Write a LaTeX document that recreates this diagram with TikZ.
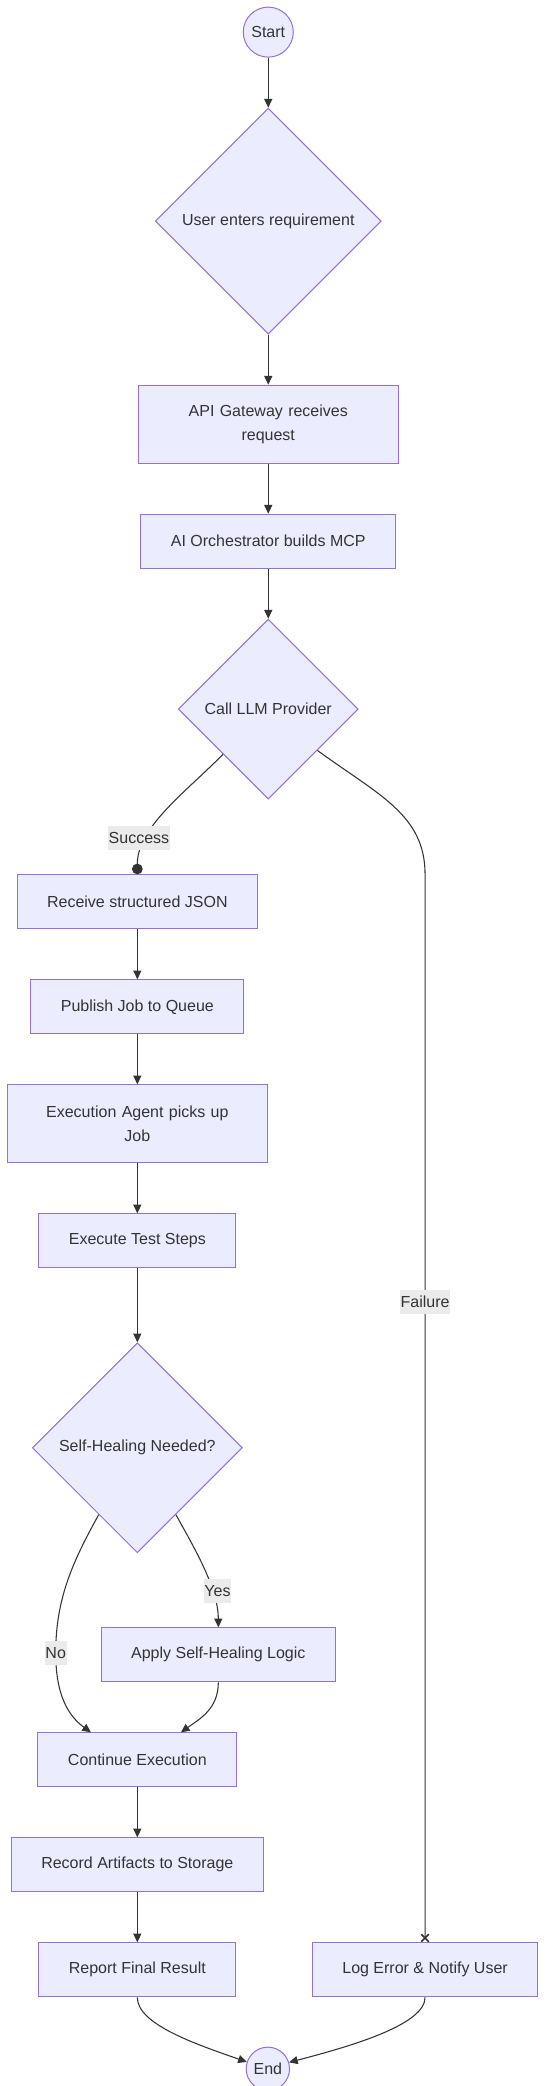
\documentclass[tikz,border=0pt]{standalone}
\usepackage{fontspec}
\setmainfont{Liberation Sans}
\usetikzlibrary{positioning,shapes.geometric,arrows.meta,calc}

\begin{document}
\begin{tikzpicture}[
    node distance=37.5pt,
    font=\fontsize{12pt}{18pt}\selectfont,
    box/.style={draw=nodeline, fill=nodefill, line width=0.75pt, text=ink, inner xsep=22.5pt, minimum height=40.5pt, align=center},
    wrapbox/.style={box, text width=150pt, minimum height=58.5pt},
    decision/.style={diamond, aspect=1, draw=nodeline, fill=nodefill, line width=0.75pt, text=ink, inner sep=0pt, align=center},
    term/.style={circle, draw=nodeline, fill=nodefill, line width=0.75pt, text=ink, inner sep=0pt},
    lbl/.style={fill=lblbg, text=ink, inner xsep=0.5pt, inner ysep=0pt, minimum height=18pt},
    link/.style={draw=ink, line width=0.8pt},
    >={Triangle[length=6.5pt, width=6pt]}
]

\definecolor{nodefill}{HTML}{ECECFF}
\definecolor{nodeline}{HTML}{9370DB}
\definecolor{ink}{HTML}{333333}
\definecolor{lblbg}{HTML}{EBEBEB}

\path[use as bounding box] (-201.2pt,24.1pt) rectangle (209.0pt,-1540.4pt);

% Main column: request path
\node[term, minimum size=37.5pt] (start) at (0,0) {Start};
\node[decision, minimum size=169.5pt, below=of start] (req) {User enters requirement};
\node[wrapbox, below=of req] (gw) {API Gateway receives\\request};
\node[box, below=of gw] (orch) {AI Orchestrator builds MCP};
\node[decision, minimum size=135pt, below=of orch] (llm) {Call LLM Provider};

% Left column: execution path
\node[box, below=56pt of llm, xshift=-98.2pt] (json) {Receive structured JSON};
\node[box, below=of json] (queue) {Publish Job to Queue};
\node[wrapbox, below=of queue] (agent) {Execution Agent picks up\\Job};
\node[box, below=of agent] (steps) {Execute Test Steps};
\node[decision, minimum size=157.5pt, below=55.5pt of steps] (heal) {Self-Healing Needed?};
\node[box, below=55.5pt of heal, xshift=60.75pt] (fix) {Apply Self-Healing Logic};
\node[box, below=of fix, xshift=-60.75pt] (cont) {Continue Execution};
\node[box, below=of cont] (store) {Record Artifacts to Storage};
\node[box, below=of store] (report) {Report Final Result};
\node[term, minimum size=32.5pt, below=37pt of report, xshift=97.9pt] (stop) {End};

% Right column: failure path
\node[box] (logerr) at ($(report)+(215.8pt,0)$) {Log Error \& Notify User};

% Arrows
\draw[link, ->] (start) -- (req);
\draw[link, ->] (req) -- (gw);
\draw[link, ->] (gw) -- (orch);
\draw[link, ->] (orch) -- (llm);
\draw[link, -{Circle[length=8pt]}] (llm.south west) .. controls +(-30pt,-30pt) and +(0,35pt) .. node[lbl, pos=0.72, xshift=-6pt] (lsucc) {Success} (json.north);
\draw[link, -{Rays[n=4, length=8pt, line width=1.2pt]}] (llm.-40) .. controls +(45pt,-33pt) and +(0,45pt) .. (logerr.north |- json.north) -- node[lbl, pos=0.4] (lfail) {Failure} (logerr.north);
\draw[link, ->] (json) -- (queue);
\draw[link, ->] (queue) -- (agent);
\draw[link, ->] (agent) -- (steps);
\draw[link, ->] (steps) -- (heal);
\draw[link, ->] (heal.-60) .. controls +(12pt,-22pt) and +(0,30pt) .. node[lbl, pos=0.7, xshift=4pt] (lyes) {Yes} (fix.north);
\coordinate (nobend) at ($(heal.-120)+(-32.25pt,-103.65pt)$);
\draw[link, ->] (heal.-120) .. controls +(-20pt,-36pt) and +(0,40pt) .. (nobend) node[lbl] (lno) {No} .. controls +(0,-30pt) and +(-18pt,13pt) .. ($(cont.north)+(-34.8pt,0)$);
\draw[link, ->] (fix.south) .. controls +(0,-20pt) and +(14pt,10pt) .. ($(cont.north)+(32.7pt,0)$);
\draw[link, ->] (cont) -- (store);
\draw[link, ->] (store) -- (report);
\draw[link, ->] (report.south) .. controls +(0,-20pt) and +(-40pt,14pt) .. (stop.162);
\draw[link, ->] (logerr.south) .. controls +(0,-20pt) and +(50pt,13pt) .. (stop.17);

\end{tikzpicture}
\end{document}
